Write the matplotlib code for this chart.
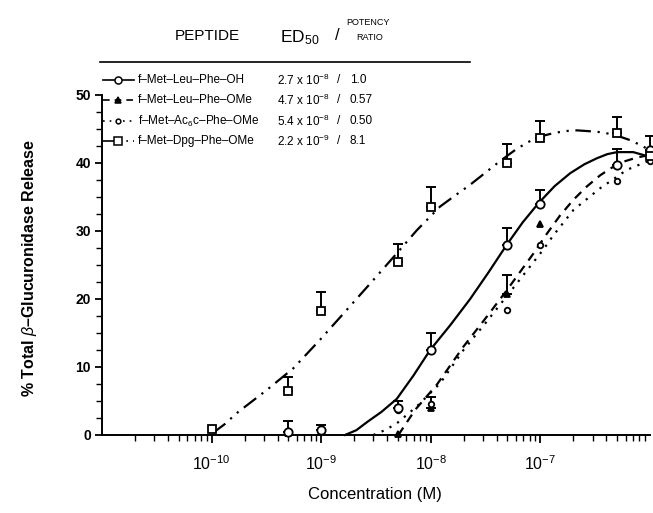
import numpy as np
import matplotlib
matplotlib.use("Agg")
import matplotlib.pyplot as plt
from matplotlib.lines import Line2D

plt.rcParams['font.family'] = ['Liberation Sans', 'DejaVu Sans']
plt.rcParams['mathtext.fontset'] = 'custom'
plt.rcParams['mathtext.rm'] = 'Liberation Sans'
plt.rcParams['mathtext.it'] = 'Liberation Sans:italic'
plt.rcParams['mathtext.bf'] = 'Liberation Sans:bold'

# ---------------- data ----------------
conc = [5e-10, 1e-9, 5e-9, 1e-8, 5e-8, 1e-7, 5e-7, 1e-6]
conc_dpg = [1e-10, 5e-10, 1e-9, 5e-9, 1e-8, 5e-8, 1e-7, 5e-7, 1e-6]

oh_y = [0.5, 0.8, 4.0, 12.5, 28.0, 34.0, 39.7, 41.9]
oh_err = [0, 0, 1.0, 2.5, 2.4, 2.1, 2.3, 2.0]

ome_y = [0.3, 0.7, 0.2, 3.9, 20.8, 31.0, 39.7, 42.0]
ome_err = [0, 0.8, 0, 1.7, 2.7, 0, 0, 0]

ac6c_y = [0.5, 0.5, 3.7, 4.5, 18.4, 27.9, 37.4, 40.3]
ac6c_err = [1.5, 0, 0, 0, 0, 0, 0, 0]

dpg_y = [0.9, 6.5, 18.3, 25.5, 33.6, 40.0, 43.7, 44.4, 41.0]
dpg_err = [0, 2.1, 2.8, 2.6, 2.8, 2.8, 2.5, 2.4, 0]

# fitted curves (log10 concentration, % release)
oh_curve_logx = [-8.783, -8.68, -8.573, -8.45, -8.311, -8.16, -8.006, -7.82, -7.641, -7.47, -7.306,
                 -7.16, -7.017, -6.87, -6.728, -6.60, -6.484, -6.39, -6.301, -6.153, -6.0]
oh_curve_y = [0.0, 0.7, 2.0, 3.4, 5.3, 8.7, 12.5, 16.2, 20.0, 24.0, 28.0,
              31.3, 34.1, 36.6, 38.5, 39.8, 40.7, 41.3, 41.6, 41.6, 40.9]

ome_curve_logx = [-8.296, -8.143, -7.945, -7.702, -7.489, -7.306, -7.063, -6.941, -6.82, -6.698,
                  -6.58, -6.454, -6.35, -6.241, -6.12, -6.0]
ome_curve_y = [0.0, 3.7, 7.4, 13.0, 17.4, 21.3, 26.7, 29.6, 32.3, 34.6,
               36.5, 38.2, 39.3, 40.2, 40.8, 41.2]

ac6c_curve_logx = [-8.524, -8.42, -8.311, -8.128, -7.915, -7.702, -7.489, -7.215, -6.972, -6.880,
                   -6.698, -6.454, -6.21, -6.0]
ac6c_curve_y = [0.0, 0.7, 1.7, 4.2, 7.6, 12.5, 16.7, 22.3, 27.3, 29.4,
                33.1, 36.3, 39.0, 40.4]

dpg_curve_logx = [-9.988, -9.88, -9.772, -9.498, -9.255, -9.011, -8.767, -8.524, -8.311, -8.128, -7.915,
                  -7.78, -7.641, -7.50, -7.367, -7.24, -7.123, -7.00, -6.880, -6.77, -6.667, -6.484,
                  -6.333, -6.17, -6.0]
dpg_curve_y = [0.3, 1.6, 3.2, 6.6, 9.8, 14.0, 18.4, 22.8, 26.7, 30.1, 33.6,
               35.2, 36.8, 38.6, 40.3, 41.8, 43.0, 43.9, 44.4, 44.7, 44.8, 44.6,
               44.2, 43.3, 41.9]

peptides = ["f\u2013Met\u2013Leu\u2013Phe\u2013OH", "f\u2013Met\u2013Leu\u2013Phe\u2013OMe",
            "f\u2013Met\u2013Ac$_{6}$c\u2013Phe\u2013OMe", "f\u2013Met\u2013Dpg\u2013Phe\u2013OMe"]
ed50 = ["2.7 x 10$^{-8}$", "4.7 x 10$^{-8}$", "5.4 x 10$^{-8}$", "2.2 x 10$^{-9}$"]
ratios = ["1.0", "0.57", "0.50", "8.1"]
xtick_vals = [1e-10, 1e-9, 1e-8, 1e-7]
xtick_labels = ["10$^{-10}$", "10$^{-9}$", "10$^{-8}$", "10$^{-7}$"]
ytick_vals = [0, 10, 20, 30, 40, 50]

# ---------------- figure ----------------
W, H = 653, 513
fig = plt.figure(figsize=(W / 100, H / 100), dpi=100)
ax = fig.add_axes([102 / W, 1 - 435 / H, (650 - 102) / W, (435 - 95) / H])

ax.set_xscale('log')
ax.set_xlim(1e-11, 1e-6)
ax.set_ylim(0, 50)

lw = 1.6
styles = {
    'oh': dict(ls='-', marker='o', ms=6, mfc='white'),
    'ome': dict(ls=(0, (4, 3)), marker='^', ms=5, mfc='black'),
    'ac6c': dict(ls=(0, (1, 3)), marker='o', ms=4, mfc='white'),
    'dpg': dict(ls=(0, (7, 3, 1, 3, 1, 3)), marker='s', ms=6, mfc='white'),
}

curves = [
    ('oh', oh_curve_logx, oh_curve_y),
    ('ome', ome_curve_logx, ome_curve_y),
    ('ac6c', ac6c_curve_logx, ac6c_curve_y),
    ('dpg', dpg_curve_logx, dpg_curve_y),
]
for key, lx, cy in curves:
    ax.plot(10 ** np.array(lx), cy, color='black', lw=lw, ls=styles[key]['ls'], clip_on=False, zorder=2)

points = [
    ('ome', conc, ome_y, ome_err),
    ('ac6c', conc, ac6c_y, ac6c_err),
    ('oh', conc, oh_y, oh_err),
    ('dpg', conc_dpg, dpg_y, dpg_err),
]
for key, xs, ys, es in points:
    st = styles[key]
    xs = np.array(xs); ys = np.array(ys); es = np.array(es)
    m = es > 0
    ax.errorbar(xs[m], ys[m], yerr=[np.zeros(m.sum()), es[m]], fmt='none', ecolor='black',
                elinewidth=1.4, capsize=3.5, capthick=1.4, clip_on=False, zorder=3)
    ax.plot(xs, ys, ls='none', marker=st['marker'], ms=st['ms'], mfc=st['mfc'], mec='black',
            mew=1.3, clip_on=False, zorder=4)

for s in ['top', 'right']:
    ax.spines[s].set_visible(False)
for s in ['left', 'bottom']:
    ax.spines[s].set_linewidth(1.4)

ax.set_xticks(xtick_vals)
ax.set_xticklabels(xtick_labels, fontsize=11.5)
ax.xaxis.set_minor_locator(matplotlib.ticker.LogLocator(base=10, subs=np.arange(2, 10)))
ax.xaxis.set_minor_formatter(matplotlib.ticker.NullFormatter())
ax.tick_params(axis='x', which='major', direction='out', length=6, width=1.3, pad=8)
ax.tick_params(axis='x', which='minor', direction='out', length=4, width=1.0)

ax.set_yticks(ytick_vals)
ax.set_yticklabels([str(v) for v in ytick_vals], fontsize=10, fontweight='bold')
ax.yaxis.set_minor_locator(matplotlib.ticker.MultipleLocator(2.5))
ax.tick_params(axis='y', which='major', direction='out', length=5, width=1.3, pad=3)
ax.tick_params(axis='y', which='minor', direction='out', length=4, width=1.0)

fig.text(375 / W, 1 - 495 / H, "Concentration (M)", ha='center', va='center', fontsize=12)
fig.text(30 / W, 1 - 268 / H, "% Total $\\beta$\u2013Glucuronidase Release", ha='center', va='center',
         rotation=90, fontsize=11.5, fontweight='bold')

# ---------------- table / legend ----------------
def fx(px):
    return px / W


def fy(py):
    return 1 - py / H


fig.text(fx(207), fy(36), "PEPTIDE", ha='center', va='center', fontsize=11)
fig.text(fx(280), fy(38), "ED$_{50}$", ha='left', va='center', fontsize=12.5)
fig.text(fx(337), fy(36), "/", ha='center', va='center', fontsize=12)
fig.text(fx(368), fy(23), "POTENCY", ha='center', va='center', fontsize=6.5)
fig.text(fx(370), fy(38), "RATIO", ha='center', va='center', fontsize=6.5)
fig.add_artist(Line2D([fx(100), fx(470)], [fy(62), fy(62)], color='black', lw=1.2))

row_y = [80, 100, 121, 141]
keys = ['oh', 'ome', 'ac6c', 'dpg']
for i, key in enumerate(keys):
    yy = fy(row_y[i])
    st = styles[key]
    lsty = st['ls']
    fig.add_artist(Line2D([fx(103), fx(134)], [yy, yy], color='black', lw=1.2, ls=lsty))
    fig.add_artist(Line2D([fx(118)], [yy], color='black', ls='none', marker=st['marker'],
                          ms=st['ms'] * 0.85, mfc=st['mfc'], mec='black', mew=1.1))
    fig.text(fx(138), yy, peptides[i], ha='left', va='center', fontsize=8.5)
    fig.text(fx(277), yy, ed50[i], ha='left', va='center', fontsize=8.5)
    fig.text(fx(339), yy, "/", ha='center', va='center', fontsize=8.5)
    fig.text(fx(350), yy, ratios[i], ha='left', va='center', fontsize=8.5)

fig.savefig("out.png", dpi=100)
